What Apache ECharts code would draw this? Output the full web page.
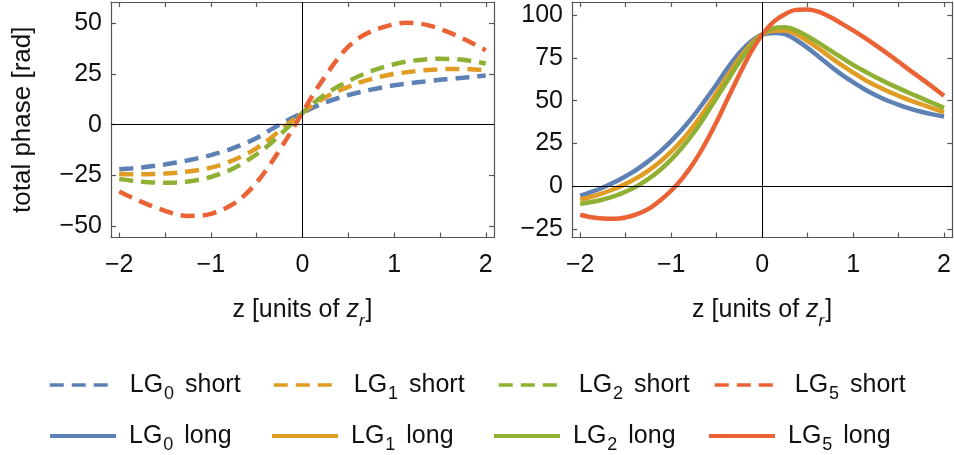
<!DOCTYPE html>
<html>
<head>
<meta charset="utf-8">
<title>Total phase of LG modes</title>
<script src="https://cdn.jsdelivr.net/npm/echarts@6/dist/echarts.min.js"></script>
<style>
  html, body { margin: 0; padding: 0; background: #ffffff; }
  #chart { width: 954px; height: 455px; }
</style>
</head>
<body>
<div id="chart"></div>
<script>
// Propagation coordinate z (units of the Rayleigh range z_r)
const zValues = [-2, -1.875, -1.75, -1.625, -1.5, -1.375, -1.25, -1.125, -1, -0.875, -0.75, -0.625, -0.5, -0.375, -0.25, -0.125,
  0, 0.125, 0.25, 0.375, 0.5, 0.625, 0.75, 0.875, 1, 1.125, 1.25, 1.375, 1.5, 1.625, 1.75, 1.875, 2];

// Total phase [rad], short trajectories
const shortLG0 = [-22, -21.6, -21.1, -20.4, -19.6, -18.7, -17.6, -16.4, -15, -13.4, -11.5, -9.2, -6.6, -3.2, 0, 3,
  5.8, 8.6, 11, 12.9, 14.6, 16, 17.3, 18.4, 19.4, 20.2, 20.9, 21.5, 22.1, 22.6, 23.1, 23.7, 24.2];
const shortLG1 = [-24.3, -24.4, -24.4, -24.3, -24.1, -23.7, -23.1, -22.3, -21.2, -19.6, -17.4, -14.8, -11.6, -7.6, -3, 1.5,
  5.8, 10, 13.5, 16.3, 18.6, 20.8, 22.5, 23.9, 25, 25.8, 26.5, 27, 27.3, 27.5, 27.5, 27.2, 26.8];
const shortLG2 = [-26.8, -27.5, -28.1, -28.5, -28.6, -28.5, -28, -27.1, -25.8, -23.9, -21.5, -18.3, -14.6, -10.3, -5.2, 0.2,
  5.8, 10.8, 15, 18.5, 21.4, 24.1, 26.4, 28.3, 29.8, 31, 31.8, 32.3, 32.5, 32.4, 32, 31.2, 30.2];
const shortLG5 = [-33, -35.7, -38.2, -40.5, -42.5, -44.2, -45, -44.9, -44, -42, -39, -34.5, -28.5, -21, -12.5, -3.5,
  6, 15.5, 24, 32, 38.5, 43, 46, 48, 49.5, 50.3, 50, 49, 47.2, 45, 42.5, 39.7, 36.7];

// Total phase [rad], long trajectories
const longLG0 = [-5.5, -3.3, -0.7, 2.3, 5.9, 9.9, 14.7, 20.1, 26.4, 33.4, 41.4, 50.3, 59.6, 69.3, 77.8, 84.4,
  88.5, 89.5, 88.8, 85.4, 80.8, 75.5, 70.2, 65.2, 60.8, 56.7, 53.2, 50.1, 47.6, 45.3, 43.5, 42, 40.7];
const longLG1 = [-7.8, -6.1, -4, -1.6, 1.4, 4.9, 9.2, 14.2, 20.2, 27.2, 35.5, 44.7, 54.6, 64.9, 74.8, 82.9,
  88.5, 90.8, 90.9, 88.8, 84.8, 80.3, 75.4, 70.7, 66.4, 62.3, 58.8, 55.6, 52.8, 50.2, 47.9, 45.5, 43.3];
const longLG2 = [-10.3, -9.2, -7.7, -5.8, -3.1, 0.1, 4.3, 9.4, 15.6, 22.9, 31.4, 41.2, 51.6, 62.2, 72.6, 81.6,
  88.5, 92.2, 92.8, 91, 87.6, 83.6, 79.3, 75.1, 70.9, 67.2, 63.6, 60.3, 57.3, 54.3, 51.5, 48.6, 45.8];
const longLG5 = [-16.6, -18.1, -18.8, -19, -18.2, -16.3, -13.2, -8.4, -2.6, 4.8, 13.9, 25, 37.7, 51.5, 65.3, 78.2,
  88.5, 96, 100.5, 103, 103.2, 101.8, 98.8, 95, 91, 86.8, 82.3, 77.6, 72.7, 67.7, 62.9, 58, 52.8];

// Tick positions and labels
const zTicks = [-2, -1.5, -1, -0.5, 0, 0.5, 1, 1.5, 2];
const zTickLabels = [-2, -1, 0, 1, 2];
const shortPhaseTicks = [-50, -25, 0, 25, 50];
const longPhaseTicks = [-25, 0, 25, 50, 75, 100];

// Mode names and colours
const modeIndex = ['0', '1', '2', '5'];
const modeColors = ['#5E81B5', '#E19C24', '#8FB032', '#EB6235'];

const FONT = "'Liberation Sans', Arial, Helvetica, sans-serif";
const FRAME = '#555555';
const TEXT = '#111111';

const minus = v => (v < 0 ? '\u2212' + Math.abs(v) : String(v));

function frameX(gridIndex, position, withLabels, extra) {
  return Object.assign({
    type: 'value',
    gridIndex: gridIndex,
    position: position,
    min: -2.09,
    max: 2.09,
    axisLine: { show: true, onZero: false, lineStyle: { color: FRAME, width: 1.2 } },
    axisTick: { show: true, inside: true, length: 5, customValues: zTicks, lineStyle: { color: FRAME, width: 1.2 } },
    axisLabel: {
      show: withLabels,
      customValues: zTickLabels,
      formatter: minus,
      fontFamily: FONT,
      fontSize: 25,
      color: TEXT,
      margin: 15
    },
    splitLine: { show: false }
  }, extra || {});
}

function frameY(gridIndex, position, min, max, ticks, withLabels, extra) {
  return Object.assign({
    type: 'value',
    gridIndex: gridIndex,
    position: position,
    min: min,
    max: max,
    axisLine: { show: true, onZero: false, lineStyle: { color: FRAME, width: 1.2 } },
    axisTick: { show: true, inside: true, length: 5, customValues: ticks, lineStyle: { color: FRAME, width: 1.2 } },
    axisLabel: {
      show: withLabels,
      customValues: ticks,
      formatter: minus,
      fontFamily: FONT,
      fontSize: 25,
      color: TEXT,
      margin: 9
    },
    splitLine: { show: false }
  }, extra || {});
}

const zTitle = {
  name: '{a|z [units of }{i|z}{s|r}{a|]}',
  nameLocation: 'middle',
  nameGap: 58,
  nameTextStyle: {
    rich: {
      a: { fontFamily: FONT, fontSize: 25, color: TEXT, lineHeight: 30 },
      i: { fontFamily: FONT, fontSize: 25, fontStyle: 'italic', color: TEXT, lineHeight: 30 },
      s: { fontFamily: FONT, fontSize: 17, fontStyle: 'italic', color: TEXT, lineHeight: 8, padding: [22, 1, 0, 0] }
    }
  }
};

function toPoints(values) {
  return zValues.map((z, i) => [z, values[i]]);
}

const shortSets = [shortLG0, shortLG1, shortLG2, shortLG5];
const longSets = [longLG0, longLG1, longLG2, longLG5];

// Thin black axes through the origin of each panel
const zeroLines = {
  silent: true,
  symbol: ['none', 'none'],
  label: { show: false },
  lineStyle: { color: '#000000', width: 1, type: 'solid' },
  data: [{ yAxis: 0 }, { xAxis: 0 }]
};

const series = [];
shortSets.forEach((vals, k) => {
  series.push({
    name: 'LG' + modeIndex[k] + ' short',
    type: 'line',
    xAxisIndex: 0,
    yAxisIndex: 0,
    data: toPoints(vals),
    smooth: 0.35,
    symbol: 'none',
    color: modeColors[k],
    lineStyle: { color: modeColors[k], width: 4.5, type: [14, 8], cap: 'butt' },
    markLine: k === 0 ? zeroLines : undefined,
    z: 3
  });
});
longSets.forEach((vals, k) => {
  series.push({
    name: 'LG' + modeIndex[k] + ' long',
    type: 'line',
    xAxisIndex: 2,
    yAxisIndex: 2,
    data: toPoints(vals),
    smooth: 0.35,
    symbol: 'none',
    color: modeColors[k],
    lineStyle: { color: modeColors[k], width: 4.5, type: 'solid' },
    markLine: k === 0 ? zeroLines : undefined,
    z: 3
  });
});

// Legend: one component per entry so each sits in its own column
const legendRich = {
  g1: { fontFamily: FONT, fontSize: 25, color: TEXT, lineHeight: 30, padding: [0, 0, 0, 17] },
  g2: { fontFamily: FONT, fontSize: 25, color: TEXT, lineHeight: 30, padding: [0, 0, 0, 8] },
  s: { fontFamily: FONT, fontSize: 18, color: TEXT, lineHeight: 12, padding: [18, 0, 0, 1] },
  t: { fontFamily: FONT, fontSize: 25, color: TEXT, lineHeight: 30, padding: [0, 0, 0, 4] }
};
const shortLefts = [48, 272, 497, 713];
const longLefts = [48, 270, 492, 707];
const legends = [];
modeIndex.forEach((m, k) => {
  legends.push({
    data: ['LG' + m + ' short'],
    left: shortLefts[k],
    top: 367,
    padding: 0,
    selectedMode: false,
    itemWidth: 58,
    itemHeight: 30,
    itemStyle: { opacity: 0 },
    lineStyle: { color: modeColors[k], width: 3.5, type: [14, 8], cap: 'butt' },
    formatter: () => '{g1|LG}{s|' + m + '}{t| short}',
    textStyle: { rich: legendRich }
  });
  legends.push({
    data: ['LG' + m + ' long'],
    left: longLefts[k],
    top: 418,
    padding: 0,
    selectedMode: false,
    itemWidth: 66,
    itemHeight: 30,
    itemStyle: { opacity: 0 },
    lineStyle: { color: modeColors[k], width: 4, type: 'solid' },
    formatter: () => '{g2|LG}{s|' + m + '}{t| long}',
    textStyle: { rich: legendRich }
  });
});

const chart = echarts.init(document.getElementById('chart'), null, { renderer: 'canvas' });
chart.setOption({
  animation: false,
  backgroundColor: '#ffffff',
  grid: [
    { left: 111, top: 2, width: 383, height: 235.5 },
    { left: 572, top: 2, width: 383, height: 235.5 }
  ],
  xAxis: [
    frameX(0, 'bottom', true, zTitle),
    frameX(0, 'top', false),
    frameX(1, 'bottom', true, zTitle),
    frameX(1, 'top', false)
  ],
  yAxis: [
    frameY(0, 'left', -55.65, 60.5, shortPhaseTicks, true, {
      name: 'total phase [rad]',
      nameLocation: 'middle',
      nameGap: 75,
      nameTextStyle: { fontFamily: FONT, fontSize: 26, color: TEXT }
    }),
    frameY(0, 'right', -55.65, 60.5, shortPhaseTicks, false),
    frameY(1, 'left', -29.9, 107.6, longPhaseTicks, true),
    frameY(1, 'right', -29.9, 107.6, longPhaseTicks, false)
  ],
  legend: legends,
  series: series
});
</script>
</body>
</html>
